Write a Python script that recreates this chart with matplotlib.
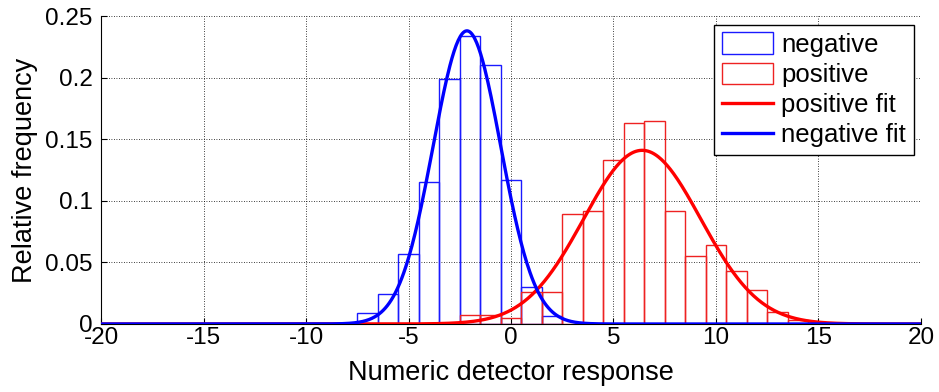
import numpy as np
import matplotlib
matplotlib.use("Agg")
import matplotlib.pyplot as plt
from matplotlib.patches import Patch
from matplotlib.lines import Line2D

plt.rcParams['font.family'] = ['Liberation Sans', 'DejaVu Sans']
plt.rcParams['axes.unicode_minus'] = False

# histogram bin centres (bin width 1)
neg_centers = [-7, -6, -5, -4, -3, -2, -1, 0, 1, 2]
neg_freq = [0.009, 0.024, 0.057, 0.115, 0.199, 0.234, 0.210, 0.117, 0.030, 0.0065]

pos_centers = list(range(-17, 17))
pos_freq = [0, 0, 0, 0, 0, 0, 0, 0, 0, 0, 0, 0, 0, 0, 0,
            0.007, 0.007, 0.0045, 0.0256, 0.0256, 0.089, 0.092, 0.133, 0.163,
            0.165, 0.092, 0.055, 0.064, 0.0433, 0.0272, 0.0096, 0.003, 0.001, 0]

# fitted normal curves: (mean, std, peak height)
neg_fit = (-2.15, 1.65, 0.238)
pos_fit = (6.4, 2.85, 0.141)

xticks = [-20, -15, -10, -5, 0, 5, 10, 15, 20]
yticks = [0, 0.05, 0.1, 0.15, 0.2, 0.25]
ytick_labels = ['0', '0.05', '0.1', '0.15', '0.2', '0.25']


def gauss(x, mu, sd, peak):
    return peak * np.exp(-0.5 * ((x - mu) / sd) ** 2)


fig = plt.figure(figsize=(9.39, 3.92), dpi=100)
ax = fig.add_axes([0.1076, 0.1735, 0.8732, 0.7855])

ax.bar(neg_centers, neg_freq, width=1, fill=False, edgecolor='#1a1aff', linewidth=1.0, zorder=2)
ax.bar(pos_centers, pos_freq, width=1, fill=False, edgecolor='#ee2222', linewidth=1.0, zorder=2)

xs = np.linspace(-20, 20, 800)
ax.plot(xs, gauss(xs, *pos_fit), color='red', lw=2.4, zorder=3)
ax.plot(xs, gauss(xs, *neg_fit), color='blue', lw=2.4, zorder=4)

ax.set_xlim(-20, 20)
ax.set_ylim(0, 0.25)
ax.set_xticks(xticks)
ax.set_yticks(yticks)
ax.set_yticklabels(ytick_labels)
ax.tick_params(direction='in', length=4, labelsize=17.5)
ax.tick_params(axis='x', pad=2)
ax.tick_params(axis='y', pad=6)
ax.grid(True, color='black', linestyle=(0, (1, 2)), linewidth=0.6)
ax.set_axisbelow(True)
for s in ['top', 'right']:
    ax.spines[s].set_visible(False)

ax.set_xlabel('Numeric detector response', fontsize=19.5, labelpad=8)
ax.set_ylabel('Relative frequency', fontsize=19.5, labelpad=5)

handles = [Patch(facecolor='white', edgecolor='#1a1aff', linewidth=1.0),
           Patch(facecolor='white', edgecolor='#ee2222', linewidth=1.0),
           Line2D([], [], color='red', lw=2.4),
           Line2D([], [], color='blue', lw=2.4)]
labels = ['negative', 'positive', 'positive fit', 'negative fit']
leg = ax.legend(handles, labels, loc='upper right', bbox_to_anchor=(0.991, 0.972),
                fontsize=18.5, frameon=True, fancybox=False, edgecolor='black',
                framealpha=1, handlelength=2.0, handleheight=0.9, handletextpad=0.3,
                labelspacing=0.22, borderpad=0.3, borderaxespad=0)
leg.get_frame().set_linewidth(1.0)

fig.savefig('out.png', dpi=100)
